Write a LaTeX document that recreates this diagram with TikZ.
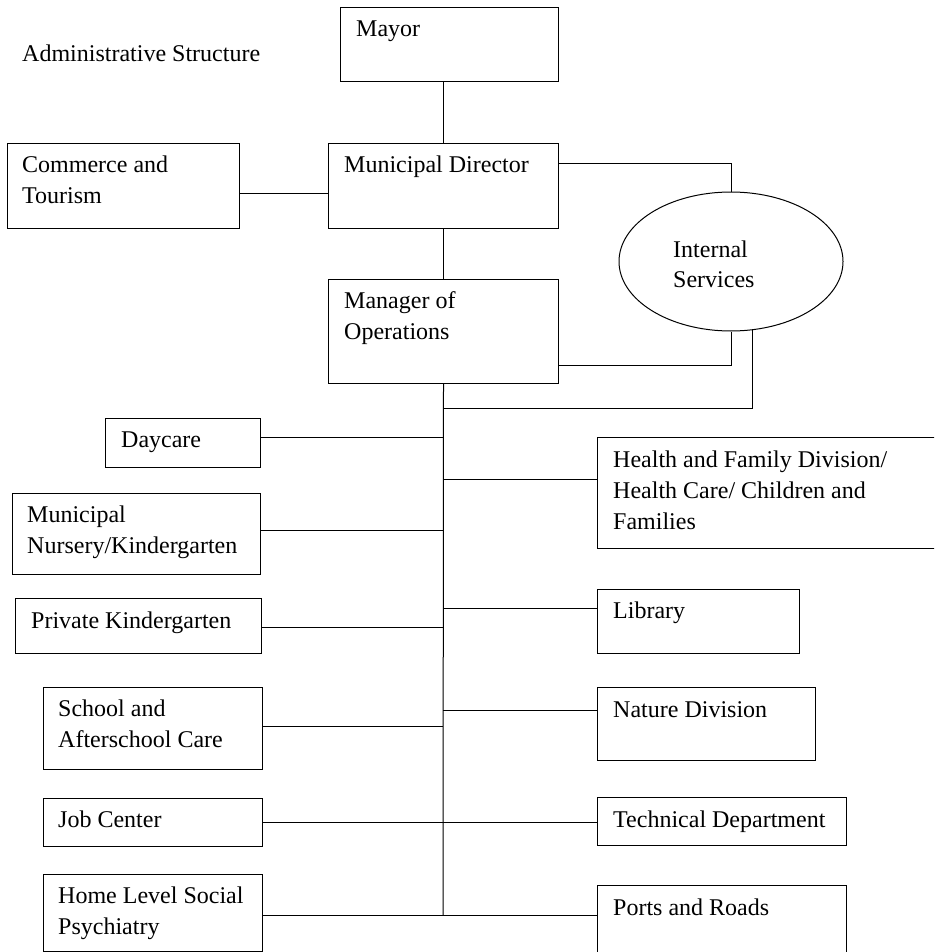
\documentclass[tikz,border=0pt]{standalone}
\usepackage{fontspec}
\setmainfont{Liberation Serif}
\usepackage{tikz}
\usetikzlibrary{shapes.geometric}

\tikzset{
  unitbox/.style={draw, line width=1pt, rectangle, inner sep=0pt, anchor=north west},
  unittext/.style={anchor=north west, inner sep=0pt, align=left, font=\fontsize{24}{31}\selectfont},
  link/.style={line width=1pt}
}

\begin{document}
\begin{tikzpicture}[x=1pt, y=-1pt]
\clip (0,0) rectangle (934,952);
\node[unittext] (title) at (22,39.3) {\strut Administrative Structure};

\node[unitbox, minimum width=218pt, minimum height=74pt] (mayor) at (340,7) {};
\node[unittext] (mayor-t) at ([shift={(16,7.8)}]mayor.north west) {\strut Mayor};
\node[unitbox, minimum width=232pt, minimum height=85pt] (commerce) at (7,143) {};
\node[unittext] (commerce-t) at ([shift={(15,7.8)}]commerce.north west) {\strut Commerce and\\Tourism};
\node[unitbox, minimum width=230pt, minimum height=85pt] (dir) at (328,143) {};
\node[unittext] (dir-t) at ([shift={(16,7.8)}]dir.north west) {\strut Municipal Director};
\node[unitbox, minimum width=230pt, minimum height=104pt] (mgr) at (328,279) {};
\node[unittext] (mgr-t) at ([shift={(16,7.8)}]mgr.north west) {\strut Manager of\\Operations};
\node[draw, line width=1pt, ellipse, inner sep=0pt, minimum width=224pt, minimum height=139pt] (intsvc) at (731,261.5) {};
\node[unittext, font=\fontsize{24}{30}\selectfont] (intsvc-t) at (673,236.3) {\strut Internal\\Services};

\node[unitbox, minimum width=155pt, minimum height=49pt] (daycare) at (105,418) {};
\node[unittext] (daycare-t) at ([shift={(16,7.8)}]daycare.north west) {\strut Daycare};
\node[unitbox, minimum width=248pt, minimum height=81pt] (nursery) at (12,493) {};
\node[unittext] (nursery-t) at ([shift={(15,7.8)}]nursery.north west) {\strut Municipal\\Nursery/Kindergarten};
\node[unitbox, minimum width=246pt, minimum height=55pt] (private) at (15,598) {};
\node[unittext] (private-t) at ([shift={(16,8.3)}]private.north west) {\strut Private Kindergarten};
\node[unitbox, minimum width=219pt, minimum height=82pt] (school) at (43,687) {};
\node[unittext] (school-t) at ([shift={(15,7.3)}]school.north west) {\strut School and\\Afterschool Care};
\node[unitbox, minimum width=219pt, minimum height=48pt] (job) at (43,798) {};
\node[unittext] (job-t) at ([shift={(15,7.8)}]job.north west) {\strut Job Center};
\node[unitbox, minimum width=219pt, minimum height=77pt] (home) at (43,874) {};
\node[unittext] (home-t) at ([shift={(15,7.8)}]home.north west) {\strut Home Level Social\\Psychiatry};

\node[unitbox, minimum width=360pt, minimum height=111pt] (health) at (597,437) {};
\node[unittext] (health-t) at ([shift={(16,8.3)}]health.north west) {\strut Health and Family Division/\\Health Care/ Children and\\Families};
\node[unitbox, minimum width=202pt, minimum height=64pt] (library) at (597,589) {};
\node[unittext] (library-t) at ([shift={(16,7.8)}]library.north west) {\strut Library};
\node[unitbox, minimum width=218pt, minimum height=73pt] (nature) at (597,687) {};
\node[unittext] (nature-t) at ([shift={(16,8.3)}]nature.north west) {\strut Nature Division};
\node[unitbox, minimum width=249pt, minimum height=48pt] (tech) at (597,797) {};
\node[unittext] (tech-t) at ([shift={(16,8.8)}]tech.north west) {\strut Technical Department};
\node[unitbox, minimum width=249pt, minimum height=70pt] (ports) at (597,885) {};
\node[unittext] (ports-t) at ([shift={(16,8.3)}]ports.north west) {\strut Ports and Roads};

\coordinate (jtop) at (443,408);
\coordinate (jday) at (443,437);
\coordinate (jhealth) at (443,479);
\coordinate (jnursery) at (443,530);
\coordinate (jlibrary) at (443,608);
\coordinate (jprivate) at (443,627);
\coordinate (jnature) at (443,710);
\coordinate (jschool) at (443,726);
\coordinate (jjob) at (443,822);
\coordinate (jhome) at (443,915);

\draw[link] (mayor.south -| dir.north) -- (dir.north);
\draw[link] ([yshift=-7pt]commerce.east) -- ([yshift=-7pt]dir.west);
\draw[link] ([yshift=22.5pt]dir.east) -| (intsvc.north);
\draw[link] (dir.south) -- (mgr.north);
\draw[link] ([yshift=-34pt]mgr.east) -| (intsvc.south);
\draw[link] (intsvc.-73) |- (jtop);
\draw[link] (mgr.south) -- (jhome);
\draw[link] (daycare.east |- jday) -- (jday);
\draw[link] (jhealth) -- (jhealth -| health.west);
\draw[link] (nursery.east |- jnursery) -- (jnursery);
\draw[link] (jlibrary) -- (jlibrary -| library.west);
\draw[link] (private.east |- jprivate) -- (jprivate);
\draw[link] (jnature) -- (jnature -| nature.west);
\draw[link] (school.east |- jschool) -- (jschool);
\draw[link] (job.east |- jjob) -- (jjob -| tech.west);
\draw[link] (home.east |- jhome) -- (jhome -| ports.west);
\end{tikzpicture}
\end{document}
